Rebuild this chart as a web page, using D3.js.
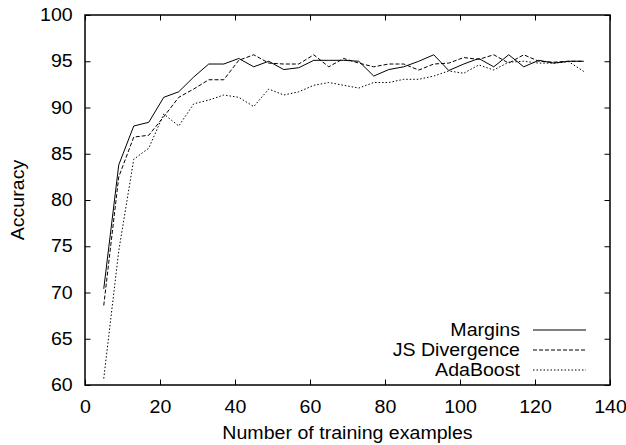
<!DOCTYPE html>
<html>
<head>
<meta charset="utf-8">
<script src="https://cdn.jsdelivr.net/npm/d3@7"></script>
<style>
  body { margin: 0; background: #fff; }
  svg { display: block; font-family: "Liberation Sans", Arial, Helvetica, sans-serif; }
</style>
</head>
<body>
<svg id="chart"></svg>
<script>
// values
const trainingSizes = [5, 9, 13, 17, 21, 25, 29, 33, 37, 41, 45, 49, 53, 57, 61, 65, 69,
  73, 77, 81, 85, 89, 93, 97, 101, 105, 109, 113, 117, 121, 125, 129, 133];
const marginsAcc = [70.4, 83.8, 88.0, 88.4, 91.1, 91.7, 93.3, 94.7, 94.7, 95.3, 94.4, 95.0, 94.1,
  94.3, 95.1, 95.1, 95.1, 95.0, 93.4, 94.1, 94.4, 95.0, 95.7, 94.0, 94.7, 95.3, 94.4, 95.7,
  94.4, 95.1, 94.8, 95.0, 95.0];
const jsDivAcc = [68.6, 82.5, 86.8, 87.0, 89.0, 91.1, 92.0, 93.0, 93.0, 95.1, 95.7, 94.8, 94.7,
  94.7, 95.7, 94.4, 95.3, 94.8, 94.4, 94.7, 94.7, 94.05, 94.7, 94.8, 95.4, 95.2, 95.7, 94.8,
  95.7, 95.0, 94.9, 95.0, 95.0];
const adaBoostAcc = [60.7, 74.5, 84.4, 85.6, 89.3, 88.0, 90.4, 90.8, 91.35, 91.1, 90.1, 92.0, 91.35,
  91.7, 92.4, 92.7, 92.4, 92.1, 92.7, 92.7, 93.05, 93.05, 93.4, 93.95, 93.7, 94.6, 94.05, 94.9,
  95.0, 94.8, 94.8, 94.95, 93.9];
const seriesNames = ['Margins', 'JS Divergence', 'AdaBoost'];
const xTicks = [0, 20, 40, 60, 80, 100, 120, 140];
const yTicks = [60, 65, 70, 75, 80, 85, 90, 95, 100];

const width = 626, height = 445;
const margin = {top: 15, right: 16, bottom: 60, left: 85};
const innerW = width - margin.left - margin.right;
const innerH = height - margin.top - margin.bottom;
const fontSize = 17.5;
const stretch = 1.12;   // glyphs in the reference are a bit wider than Arial
const dashes = ['none', '4,2', '1.5,2'];

const svg = d3.select('#chart')
    .attr('width', width)
    .attr('height', height);

const chart = svg.append('g')
    .attr('transform', `translate(${margin.left},${margin.top})`);

const xScale = d3.scaleLinear().domain([0, 140]).range([0, innerW]);
const yScale = d3.scaleLinear().domain([60, 100]).range([innerH, 0]);

// inward ticks on all four sides
const xAxisG = chart.append('g')
    .attr('transform', `translate(0,${innerH})`)
    .call(d3.axisBottom(xScale).tickValues(xTicks).tickSize(-5.5).tickPadding(15.6));
const yAxisG = chart.append('g')
    .call(d3.axisLeft(yScale).tickValues(yTicks).tickSize(-5.5).tickPadding(11));
chart.append('g')
    .call(d3.axisTop(xScale).tickValues(xTicks).tickSize(-5.5).tickFormat(''));
chart.append('g')
    .attr('transform', `translate(${innerW},0)`)
    .call(d3.axisRight(yScale).tickValues(yTicks).tickSize(-5.5).tickFormat(''));

chart.selectAll('.domain').remove();
chart.selectAll('.tick line').attr('stroke', '#000').attr('stroke-width', 1);
chart.selectAll('.tick text')
    .attr('fill', '#000')
    .style('font-size', fontSize + 'px')
    .style('font-family', 'inherit')
    .attr('transform', `scale(${stretch},1)`);

chart.append('rect')
    .attr('width', innerW)
    .attr('height', innerH)
    .attr('fill', 'none')
    .attr('stroke', '#000')
    .attr('stroke-width', 1.5);

// axis titles
svg.append('text')
    .attr('transform', `translate(${margin.left + innerW / 2},439) scale(${stretch},1)`)
    .attr('text-anchor', 'middle')
    .style('font-size', fontSize + 'px')
    .text('Number of training examples');

svg.append('text')
    .attr('transform', `translate(24,${margin.top + innerH / 2}) rotate(-90) scale(${stretch},1)`)
    .attr('text-anchor', 'middle')
    .style('font-size', fontSize + 'px')
    .text('Accuracy');

// lines
const series = [marginsAcc, jsDivAcc, adaBoostAcc];
const line = d3.line()
    .x((d, i) => xScale(trainingSizes[i]))
    .y(d => yScale(d));

chart.append('g').selectAll('.chart-line')
    .data(series)
    .join('path')
      .attr('class', 'chart-line')
      .attr('d', line)
      .attr('fill', 'none')
      .attr('stroke', '#000')
      .attr('stroke-width', 1)
      .attr('stroke-dasharray', (d, i) => dashes[i]);

// legend
const legend = svg.append('g');
const legendRows = legend.selectAll('g')
    .data(seriesNames)
    .join('g')
      .attr('transform', (d, i) => `translate(0,${330 + i * 20})`);

legendRows.append('text')
    .attr('transform', `translate(520,0) scale(${stretch},1)`)
    .attr('text-anchor', 'end')
    .attr('dy', '0.36em')
    .style('font-size', fontSize + 'px')
    .text(d => d);

legendRows.append('line')
    .attr('x1', 533)
    .attr('x2', 586)
    .attr('stroke', '#000')
    .attr('stroke-width', 1)
    .attr('stroke-dasharray', (d, i) => dashes[i]);
</script>
</body>
</html>
